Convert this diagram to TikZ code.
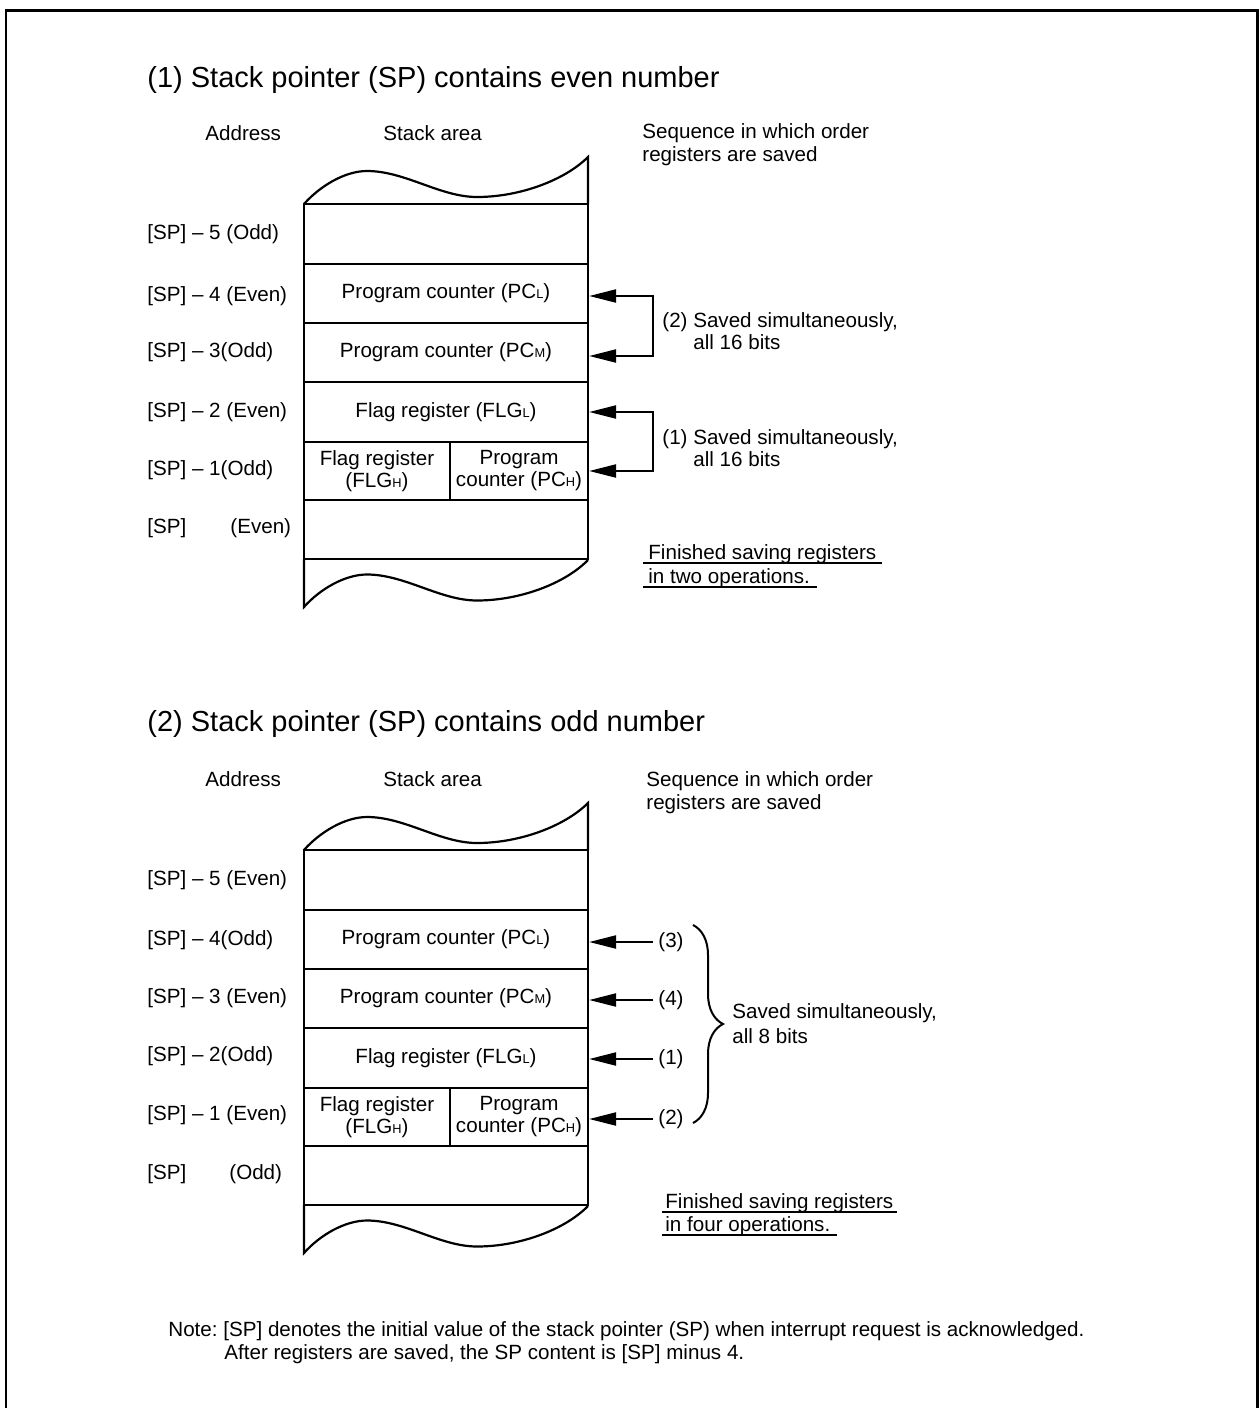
\documentclass[tikz,border=0pt]{standalone}
\usepackage{fontspec}
\setmainfont{Liberation Sans}
\usetikzlibrary{arrows.meta,decorations.pathreplacing}
\newcommand\subx[1]{{\fontsize{6.4}{7}\selectfont #1}}
\tikzset{tri/.tip={Triangle[length=13.5pt,width=6.5pt]}}
\begin{document}
\frenchspacing
\begin{tikzpicture}[x=0.5pt,y=-0.5pt,
  txt/.style={font=\fontsize{10.3}{11}\selectfont, inner sep=0pt},
  lab/.style={txt, anchor=west},
  ttl/.style={font=\fontsize{14.5}{16}\selectfont, inner sep=0pt, anchor=west},
  cell/.style={draw, line width=1.1pt, minimum width=142pt, inner sep=0pt, align=center, txt},
  outline/.style={line width=1.1pt},
  link/.style={line width=1.1pt},
  uline/.style={line width=1pt},
  frame/.style={line width=1.15pt}
]
\useasboundingbox (0,0) rectangle (1259,1408);
\draw[frame] (6,1408) -- (6,10.5) -- (1257.5,10.5) -- (1257.5,1408);

% ---------------- diagram (1) ----------------
\node[ttl] (t1) at (147,80) {(1) Stack pointer (SP) contains even number};
\node[lab] (h1a) at (205,133) {Address};
\node[lab] (h1b) at (383,133) {Stack area};
\node[lab] (h1c) at (642,133) {Sequence in which order};
\node[lab] (h1d) at (642,156) {registers are saved};

\draw[outline] (304,204) .. controls (320,186) and (345,171) .. (367,171)
  .. controls (405,171) and (440,197) .. (477,197)
  .. controls (520,197) and (565,180) .. (588,157) -- (588,204);
\node[cell, minimum height=30pt] (a5) at (446,234) {};
\node[cell, minimum height=29.5pt] (a4) at (446,293.5) {Program counter (PC\subx{L})};
\node[cell, minimum height=29.5pt] (a3) at (446,352.5) {Program counter (PC\subx{M})};
\node[cell, minimum height=30pt] (a2) at (446,412) {Flag register (FLG\subx{L})};
\node[cell, minimum width=73pt, minimum height=29pt] (a1l) at (377,471) {Flag register\\(FLG\subx{H})};
\node[cell, minimum width=69pt, minimum height=29pt] (a1r) at (519,471) {Program\\counter (PC\subx{H})};
\node[cell, minimum height=29.5pt] (a0) at (446,529.5) {};
\draw[outline] (304,559) -- (304,607) .. controls (320,589) and (345,574.5) .. (367,574.5)
  .. controls (405,574.5) and (440,600.5) .. (477,600.5)
  .. controls (520,600.5) and (565,583.5) .. (588,560);

\node[lab] (l15) at (147,234) {[SP] -- 5 (Odd)};
\node[lab] (l14) at (147,296) {[SP] -- 4 (Even)};
\node[lab] (l13) at (147,352) {[SP] -- 3(Odd)};
\node[lab] (l12) at (147,412) {[SP] -- 2 (Even)};
\node[lab] (l11) at (147,470) {[SP] -- 1(Odd)};
\node[lab] (l10) at (147,528) {[SP]};
\node[lab] (l10b) at (230,528) {(Even)};

\coordinate (p1) at (653,296);
\coordinate (p2) at (653,356);
\draw[link, tri-tri] (a4.east |- p1) -- (p1) -- (p2) -- (a3.east |- p2);
\coordinate (q1) at (653,412);
\coordinate (q2) at (653,471);
\draw[link, tri-tri] (a2.east |- q1) -- (q1) -- (q2) -- (a1r.east |- q2);
\node[lab] (s2a) at (662,322) {(2) Saved simultaneously,};
\node[lab] (s2b) at (693,342) {all 16 bits};
\node[lab] (s1a) at (662,439) {(1) Saved simultaneously,};
\node[lab] (s1b) at (693,459) {all 16 bits};

\node[txt, anchor=base west] (f1a) at (648,559) {Finished saving registers};
\node[txt, anchor=base west] (f1b) at (648,583) {in two operations.};
\draw[uline] (643,563) -- (882,563);
\draw[uline] (643,587) -- (817,587);

% ---------------- diagram (2) ----------------
\begin{scope}[shift={(0,646)}]
\node[ttl] (t2) at (147,78) {(2) Stack pointer (SP) contains odd number};
\node[lab] (h2a) at (205,133) {Address};
\node[lab] (h2b) at (383,133) {Stack area};
\node[lab] (h2c) at (646,135) {Sequence in which order};
\node[lab] (h2d) at (646,158) {registers are saved};

\draw[outline] (304,204) .. controls (320,186) and (345,171) .. (367,171)
  .. controls (405,171) and (440,197) .. (477,197)
  .. controls (520,197) and (565,180) .. (588,157) -- (588,204);
\node[cell, minimum height=30pt] (b5) at (446,234) {};
\node[cell, minimum height=29.5pt] (b4) at (446,293.5) {Program counter (PC\subx{L})};
\node[cell, minimum height=29.5pt] (b3) at (446,352.5) {Program counter (PC\subx{M})};
\node[cell, minimum height=30pt] (b2) at (446,412) {Flag register (FLG\subx{L})};
\node[cell, minimum width=73pt, minimum height=29pt] (b1l) at (377,471) {Flag register\\(FLG\subx{H})};
\node[cell, minimum width=69pt, minimum height=29pt] (b1r) at (519,471) {Program\\counter (PC\subx{H})};
\node[cell, minimum height=29.5pt] (b0) at (446,529.5) {};
\draw[outline] (304,559) -- (304,607) .. controls (320,589) and (345,574.5) .. (367,574.5)
  .. controls (405,574.5) and (440,600.5) .. (477,600.5)
  .. controls (520,600.5) and (565,583.5) .. (588,560);

\node[lab] (m15) at (147,234) {[SP] -- 5 (Even)};
\node[lab] (m14) at (147,294) {[SP] -- 4(Odd)};
\node[lab] (m13) at (147,352) {[SP] -- 3 (Even)};
\node[lab] (m12) at (147,410) {[SP] -- 2(Odd)};
\node[lab] (m11) at (147,469) {[SP] -- 1 (Even)};
\node[lab] (m10) at (147,528) {[SP]};
\node[lab] (m10b) at (229,528) {(Odd)};

\node[lab] (n3) at (658,296) {(3)};
\node[lab] (n4) at (658,354) {(4)};
\node[lab] (n1) at (658,413) {(1)};
\node[lab] (n2) at (658,473) {(2)};
\draw[link, -tri, shorten <=2.3pt] (n3.west) -- (b4.east |- n3.west);
\draw[link, -tri, shorten <=2.3pt] (n4.west) -- (b3.east |- n4.west);
\draw[link, -tri, shorten <=2.3pt] (n1.west) -- (b2.east |- n1.west);
\draw[link, -tri, shorten <=2.3pt] (n2.west) -- (b1r.east |- n2.west);
\coordinate (br1) at (693,279);
\coordinate (br2) at (693,477);
\draw[line width=1pt, decorate, decoration={brace, amplitude=15pt}] (br1) -- (br2);
\node[lab] (s3a) at (732,367) {Saved simultaneously,};
\node[lab] (s3b) at (732,390) {all 8 bits};

\node[txt, anchor=base west] (f2a) at (665,562) {Finished saving registers};
\node[txt, anchor=base west] (f2b) at (665,585) {in four operations.};
\draw[uline] (662,566) -- (897,566);
\draw[uline] (662,589) -- (837,589);
\end{scope}

\node[lab] (note1) at (168,1331) {Note: [SP] denotes the initial value of the stack pointer (SP) when interrupt request is acknowledged.};
\node[lab] (note2) at (224,1354) {After registers are saved, the SP content is [SP] minus 4.};
\end{tikzpicture}
\end{document}
